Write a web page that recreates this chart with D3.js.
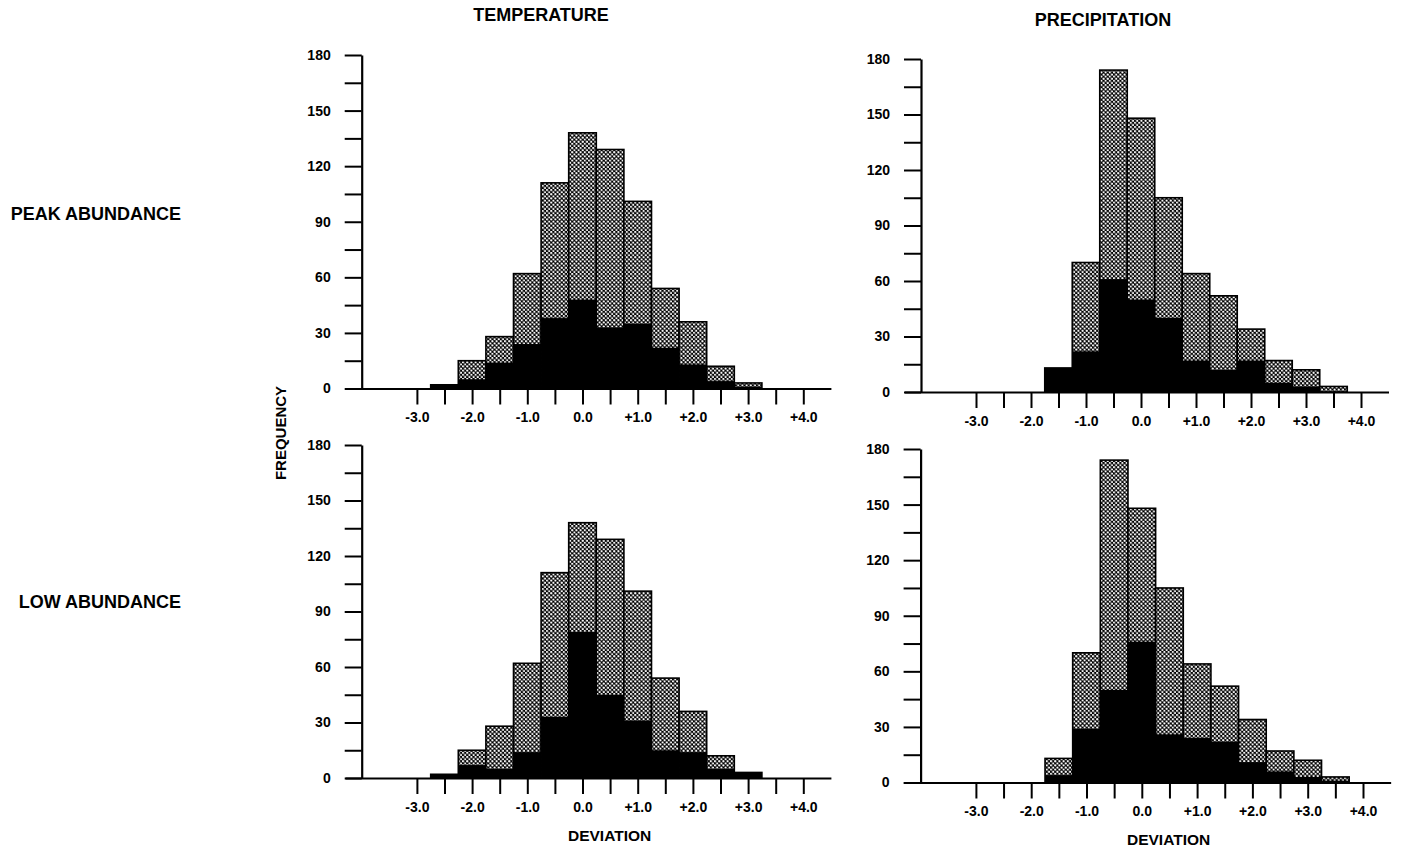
<!DOCTYPE html>
<html>
<head>
<meta charset="utf-8">
<script src="https://cdn.jsdelivr.net/npm/d3@7"></script>
<style>
body { margin: 0; background: #fff; }
svg text { font-family: "Liberation Sans", Arial, Helvetica, sans-serif; font-weight: bold; fill: #000; }
</style>
</head>
<body>
<svg id="chart" width="1403" height="847"></svg>
<script>
// bin centres (width 0.5)
const tempBins = [-2.5, -2, -1.5, -1, -0.5, 0, 0.5, 1, 1.5, 2, 2.5, 3];
const tempTotal = [2, 15, 28, 62, 111, 138, 129, 101, 54, 36, 12, 3];
const tempPeak = [2, 5, 14, 24, 38, 48, 33, 35, 22, 13, 4, 1];
const tempLow = [2, 7, 5, 14, 33, 79, 45, 31, 15, 14, 5, 3];

const precipBins = [-1.5, -1, -0.5, 0, 0.5, 1, 1.5, 2, 2.5, 3, 3.5];
const precipTotal = [13, 70, 174, 148, 105, 64, 52, 34, 17, 12, 3];
const precipPeak = [13, 22, 61, 50, 40, 17, 12, 17, 5, 3, 0];
const precipLow = [4, 29, 50, 76, 26, 24, 22, 11, 6, 3, 1];

const yTicks = d3.range(0, 181, 15);
const xTicks = d3.range(-6, 9).map(d => d / 2);

const svg = d3.select('#chart');

// crosshatch fill
const pat = svg.append('defs').append('pattern')
	.attr('id', 'hatch')
	.attr('patternUnits', 'userSpaceOnUse')
	.attr('width', 4.2)
	.attr('height', 4.2);
pat.append('rect').attr('width', 4.2).attr('height', 4.2).attr('fill', '#000');
pat.append('circle').attr('cx', 1.05).attr('cy', 1.05).attr('r', 1.1).attr('fill', '#fff');
pat.append('circle').attr('cx', 3.15).attr('cy', 3.15).attr('r', 1.1).attr('fill', '#fff');

const panels = [
	{axisX: 361.7, unit: 55.2, y0: 388.5, yTop: 55, bins: tempBins, total: tempTotal, black: tempPeak},
	{axisX: 921, unit: 55.0, y0: 392, yTop: 59, bins: precipBins, total: precipTotal, black: precipPeak},
	{axisX: 361.7, unit: 55.2, y0: 778, yTop: 445, bins: tempBins, total: tempTotal, black: tempLow},
	{axisX: 920.6, unit: 55.3, y0: 782.5, yTop: 449, bins: precipBins, total: precipTotal, black: precipLow}
];

panels.forEach(drawPanel);

function fmtDev(d) {
	if (d % 1 !== 0) return '';
	if (d === 0) return '0.0';
	return (d > 0 ? '+' : '-') + Math.abs(d).toFixed(1);
}

function drawPanel(p) {
	const x = d3.scaleLinear()
		.domain([-4.3, 4.5])
		.range([p.axisX - 0.3 * p.unit, p.axisX + 8.5 * p.unit]);
	const y = d3.scaleLinear()
		.domain([0, 180])
		.range([p.y0, p.yTop]);

	const g = svg.append('g');
	const rows = p.bins.map((c, i) => ({c: c, total: p.total[i], black: p.black[i]}));

	// full distribution (crosshatch)
	g.append('g').selectAll('rect')
		.data(rows)
		.enter().append('rect')
			.attr('x', d => x(d.c - 0.25))
			.attr('width', d => x(d.c + 0.25) - x(d.c - 0.25))
			.attr('y', d => y(d.total))
			.attr('height', d => y(0) - y(d.total))
			.attr('fill', 'url(#hatch)')
			.attr('stroke', '#000')
			.attr('stroke-width', 1.6);

	// subset (solid black)
	g.append('g').selectAll('rect')
		.data(rows.filter(d => d.black > 0))
		.enter().append('rect')
			.attr('x', d => x(d.c - 0.25))
			.attr('width', d => x(d.c + 0.25) - x(d.c - 0.25))
			.attr('y', d => y(d.black))
			.attr('height', d => y(0) - y(d.black))
			.attr('fill', '#000');

	// axes
	const yAxis = g.append('g')
		.attr('transform', `translate(${p.axisX},0)`)
		.call(d3.axisLeft(y)
			.tickValues(yTicks)
			.tickSize(17)
			.tickSizeOuter(0)
			.tickPadding(14)
			.tickFormat(d => d % 30 === 0 ? d : ''));

	const xAxis = g.append('g')
		.attr('transform', `translate(0,${p.y0})`)
		.call(d3.axisBottom(x)
			.tickValues(xTicks)
			.tickSize(16)
			.tickSizeOuter(0)
			.tickPadding(8)
			.tickFormat(fmtDev));

	[yAxis, xAxis].forEach(a => {
		a.select('.domain').attr('stroke-width', 2.2);
		a.selectAll('.tick line').attr('stroke-width', 2);
		a.selectAll('text').style('font-size', '14px');
	});
}

// titles & labels
const labels = [
	{text: 'TEMPERATURE', x: 541, y: 21, size: 18, anchor: 'middle'},
	{text: 'PRECIPITATION', x: 1103, y: 26, size: 18, anchor: 'middle'},
	{text: 'PEAK ABUNDANCE', x: 181, y: 220, size: 18, anchor: 'end'},
	{text: 'LOW ABUNDANCE', x: 181, y: 608, size: 18, anchor: 'end'},
	{text: 'DEVIATION', x: 568, y: 841, size: 15.5, anchor: 'start'},
	{text: 'DEVIATION', x: 1127, y: 845, size: 15.5, anchor: 'start'}
];

svg.append('g').selectAll('text')
	.data(labels)
	.enter().append('text')
		.attr('x', d => d.x)
		.attr('y', d => d.y)
		.attr('text-anchor', d => d.anchor)
		.style('font-size', d => d.size + 'px')
		.text(d => d.text);

svg.append('text')
	.attr('transform', 'translate(286,433) rotate(-90)')
	.attr('text-anchor', 'middle')
	.style('font-size', '15px')
	.text('FREQUENCY');
</script>
</body>
</html>
